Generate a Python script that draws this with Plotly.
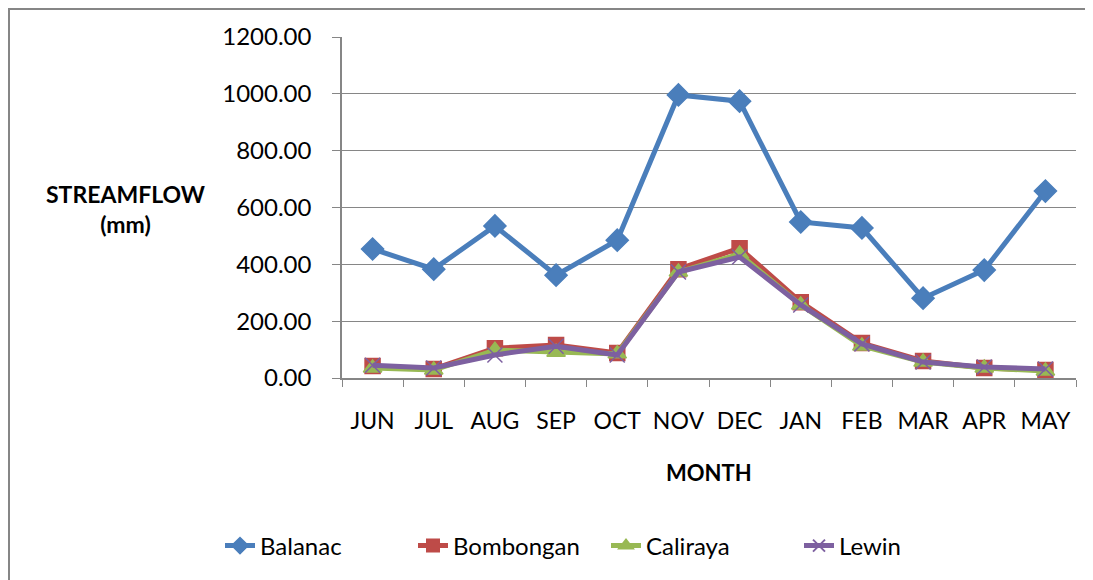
import plotly.graph_objects as go

months = ["JUN", "JUL", "AUG", "SEP", "OCT", "NOV", "DEC", "JAN", "FEB", "MAR", "APR", "MAY"]
balanac = [454, 383, 535, 362, 485, 996, 974, 549, 528, 281, 380, 658]
bombongan = [42, 32, 105, 116, 88, 383, 457, 267, 123, 60, 35, 28]
caliraya = [35, 28, 98, 91, 85, 373, 436, 257, 113, 56, 35, 25]
lewin = [45, 35, 81, 112, 81, 373, 426, 257, 120, 56, 39, 32]

series = [
    ("Balanac", balanac, "#4A7EBB", "diamond", 17),
    ("Bombongan", bombongan, "#BE4B48", "square", 15),
    ("Caliraya", caliraya, "#98B954", "triangle-up", 16),
    ("Lewin", lewin, "#7D60A0", "x-thin-open", 15),
]

FONT = "Lato, Liberation Sans, sans-serif"
fig = go.Figure()
for name, vals, col, sym, sz in series:
    fig.add_trace(go.Scatter(
        x=months, y=vals, name=name, mode="lines+markers",
        line=dict(color=col, width=5),
        marker=dict(symbol=sym, size=sz, color=col, line=dict(color=col, width=1.5)),
    ))

OFF = 8  # page body margin
W, H = 1093 - OFF, 580 - OFF
L, R, T, B = 342 - OFF, 17, 37 - OFF, 202
pw, ph = W - L - R, H - T - B

def px(x):
    return (x - OFF - L) / pw

def py(y):
    return (H - B - (y - OFF)) / ph

fig.update_layout(
    width=W, height=H,
    margin=dict(l=L, r=R, t=T, b=B),
    paper_bgcolor="white", plot_bgcolor="white",
    font=dict(family=FONT, size=24, color="#000000"),
    showlegend=True,
    legend=dict(orientation="h", x=px(220), xanchor="left", y=py(546), yanchor="middle",
                font=dict(size=24), itemsizing="constant", tracegroupgap=0,
                entrywidth=148),
    xaxis=dict(type="category", range=[-0.5, len(months) - 0.5], tickson="boundaries",
               ticks="outside", ticklen=7,
               tickcolor="#868686", showline=True, linecolor="#868686", linewidth=1.5,
               showgrid=False, tickfont=dict(size=23), tickangle=0, ticklabelstandoff=22),
    yaxis=dict(range=[0, 1200], dtick=200, tickformat=".2f", ticks="outside", ticklen=8,
               tickcolor="#868686", showline=True, linecolor="#868686", linewidth=1.5,
               showgrid=True, gridcolor="#868686", gridwidth=1.2, zeroline=False,
               tickfont=dict(size=24), ticklabelstandoff=16),
    annotations=[
        dict(text="<b>STREAMFLOW<br>(mm)</b>", xref="paper", yref="paper",
             x=px(125), y=py(209), xanchor="center", yanchor="middle",
             showarrow=False, font=dict(size=23), align="center"),
        dict(text="<b>MONTH</b>", xref="paper", yref="paper",
             x=px(709), y=py(472), xanchor="center", yanchor="middle",
             showarrow=False, font=dict(size=22)),
    ],
    shapes=[
        dict(type="rect", xref="paper", yref="paper",
             x0=px(9), x1=px(1090), y0=py(600), y1=py(9),
             line=dict(color="#868686", width=2), fillcolor="rgba(0,0,0,0)", layer="below"),
    ],
)

fig.write_html("out.html")
